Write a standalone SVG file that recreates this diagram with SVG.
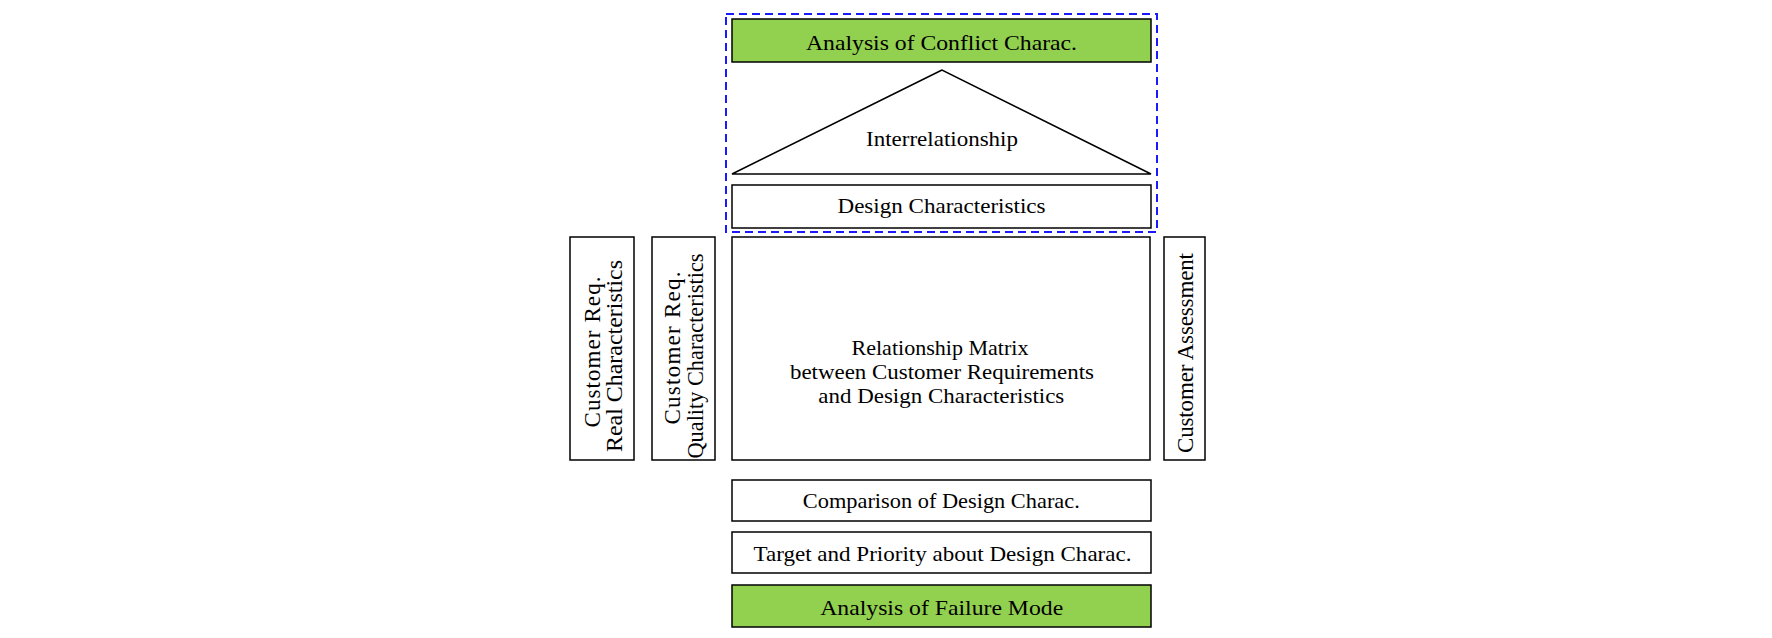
<svg xmlns="http://www.w3.org/2000/svg" width="1772" height="638" viewBox="0 0 1772 638">
<style>
.box{fill:#fff;stroke:#000;stroke-width:1.5}
.green{fill:#92D050;stroke:#000;stroke-width:1.5}
text{font-family:"Liberation Serif","DejaVu Serif",serif;font-size:21px;fill:#000;text-anchor:middle}
.v{font-size:23px}
</style>
<rect width="1772" height="638" fill="#fff"/>
<g id="conflict-group">
<rect x="726" y="14" width="431" height="218" fill="none" stroke="#1a1aff" stroke-width="2" stroke-dasharray="8,5"/>
</g>
<g id="conflict">
<rect class="green" x="732" y="19" width="419" height="43"/>
<text x="941.5" y="50" textLength="271" lengthAdjust="spacingAndGlyphs">Analysis of Conflict Charac.</text>
</g>
<g id="interrelationship">
<polygon points="942,70 732,174 1151,174" fill="#fff" stroke="#000" stroke-width="1.5"/>
<text x="942" y="146" textLength="152" lengthAdjust="spacingAndGlyphs">Interrelationship</text>
</g>
<g id="design">
<rect class="box" x="732" y="185" width="419" height="43"/>
<text x="941.5" y="213" textLength="208" lengthAdjust="spacingAndGlyphs">Design Characteristics</text>
</g>
<g id="matrix">
<rect class="box" x="732" y="237" width="418" height="223"/>
<text x="940" y="355" textLength="177" lengthAdjust="spacingAndGlyphs">Relationship Matrix</text>
<text x="942" y="379" textLength="304" lengthAdjust="spacingAndGlyphs">between Customer Requirements</text>
<text x="941.3" y="403" textLength="246" lengthAdjust="spacingAndGlyphs">and Design Characteristics</text>
</g>
<g id="real">
<rect class="box" x="570" y="237" width="64" height="223"/>
<text class="v" transform="translate(600,352) rotate(-90)" textLength="151" lengthAdjust="spacing">Customer Req.</text>
<text class="v" transform="translate(622,356) rotate(-90)" textLength="192" lengthAdjust="spacingAndGlyphs">Real Characteristics</text>
</g>
<g id="quality">
<rect class="box" x="652" y="237" width="63" height="223"/>
<text class="v" transform="translate(680,348) rotate(-90)" textLength="153" lengthAdjust="spacing">Customer Req.</text>
<text class="v" transform="translate(703,356) rotate(-90)" textLength="205" lengthAdjust="spacingAndGlyphs">Quality Characteristics</text>
</g>
<g id="assessment">
<rect class="box" x="1164" y="237" width="41" height="223"/>
<text class="v" transform="translate(1193,353) rotate(-90)" textLength="200" lengthAdjust="spacing">Customer Assessment</text>
</g>
<g id="comparison">
<rect class="box" x="732" y="480" width="419" height="41"/>
<text x="941.3" y="508" textLength="277" lengthAdjust="spacingAndGlyphs">Comparison of Design Charac.</text>
</g>
<g id="target">
<rect class="box" x="732" y="532" width="419" height="41"/>
<text x="942.5" y="561" textLength="378" lengthAdjust="spacingAndGlyphs">Target and Priority about Design Charac.</text>
</g>
<g id="failure">
<rect class="green" x="732" y="585" width="419" height="42"/>
<text x="941.7" y="615" textLength="243" lengthAdjust="spacingAndGlyphs">Analysis of Failure Mode</text>
</g>
<g id="connectors"></g>
</svg>
